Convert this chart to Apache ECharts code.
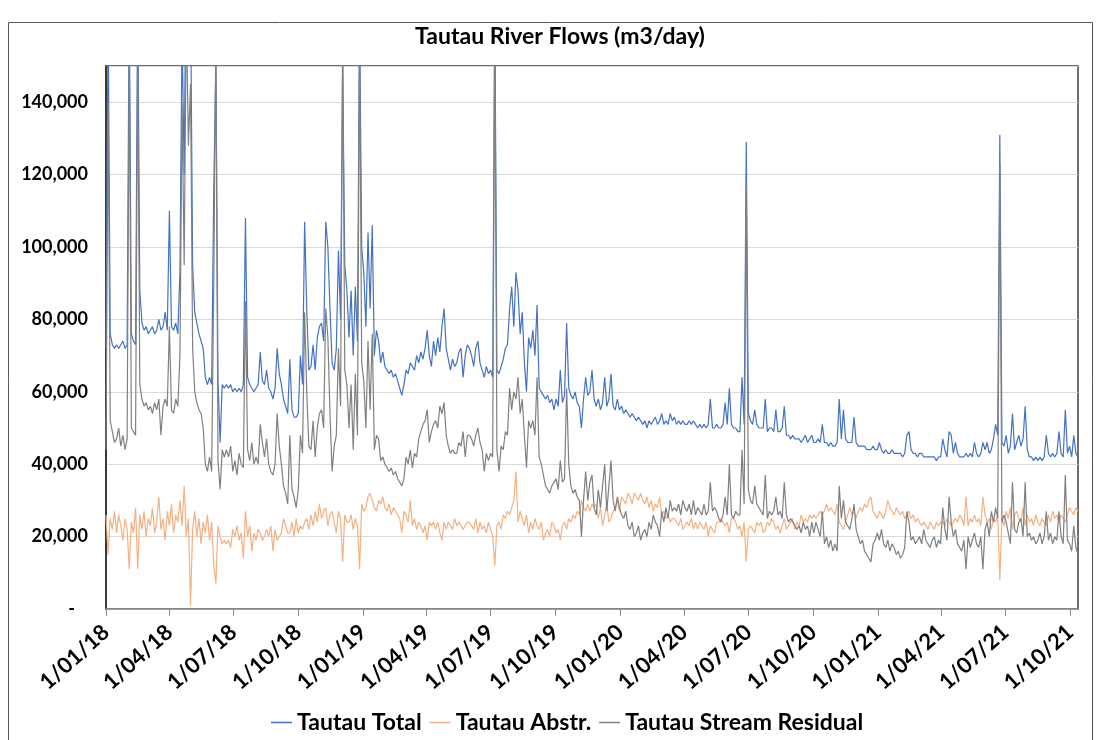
<!DOCTYPE html>
<html>
<head>
<meta charset="utf-8">
<script src="https://cdn.jsdelivr.net/npm/echarts@6/dist/echarts.min.js"></script>
<style>
  html, body { margin: 0; padding: 0; background: #ffffff; }
  #chart { width: 1099px; height: 740px; }
</style>
</head>
<body>
<div id="chart"></div>
<script>
// Tautau river flows, one reading every 3 days from 1 Jan 2018, values in thousands of m3/day.
const FIRST_DAY = [2018, 0, 1];
const STEP_DAYS = 3;

const seriesNames = ['Tautau Total', 'Tautau Abstr.', 'Tautau Stream Residual'];
const seriesColors = ['#4472C4', '#F4B183', '#808080'];

const tickLabels = ['1/01/18', '1/04/18', '1/07/18', '1/10/18', '1/01/19', '1/04/19', '1/07/19', '1/10/19',
  '1/01/20', '1/04/20', '1/07/20', '1/10/20', '1/01/21', '1/04/21', '1/07/21', '1/10/21'];

const totalK = [
  // Jan - Jun 2018
  72,165,76,73,72,73,72,73,74,72, 73,170,76,74,73,170,88,79,77,78, 76,77,78,76,77,80,77,78,82,77,
  110,78,77,79,76,93,160,120,190,150, 170,95,82,79,76,74,72,64,62,64, 62,116,150,63,46,62,61,
  // Jun - Dec 2018
  62,61,62,60,61,60,61,60,62,108, 64,62,61,60,61,62,71,63,62,66, 61,60,58,61,72,65,62,58,56,54,
  69,55,53,53,54,70,62,107,83,66, 67,73,66,75,78,79,74,107,100,83, 68,66,72,99,80,150,95,88,
  // Dec 2018 - Jun 2019
  75,88,70,89,74,165,100,93,78,104, 83,106,70,77,74,68,71,67,66,65, 66,64,65,63,61,59,62,66,65,68,
  67,66,70,68,71,69,72,77,70,67, 74,70,75,71,78,83,72,69,66,69, 67,68,71,72,64,70,73,72,
  // Jun - Nov 2019
  70,67,72,74,68,66,64,67,65,66, 64,170,66,65,67,69,72,73,83,89, 78,93,88,76,82,68,60,75,72,77,
  70,84,61,60,59,58,59,57,58,55, 58,56,66,57,59,79,61,59,58,60, 57,56,50,58,64,59,60,66,58,
  // Nov 2019 - May 2020
  56,58,55,57,64,56,58,65,56,55, 58,55,56,54,55,54,53,54,53,52, 53,52,51,52,50,52,51,52,53,51,
  52,54,51,52,51,54,52,53,51,52, 51,52,51,51,52,51,52,51,50,51, 50,51,50,51,58,50,50,51,
  // May - Nov 2020
  50,50,51,57,51,61,51,50,50,49, 49,64,51,129,54,52,51,55,51,50, 50,50,58,49,50,50,49,55,49,49,
  50,56,48,48,47,48,47,47,47,46, 47,48,46,47,48,46,46,47,46,51, 46,46,45,46,45,45,46,58,
  // Nov 2020 - May 2021
  47,55,47,46,46,46,53,46,45,45, 45,45,44,44,44,45,44,44,46,44, 43,44,43,43,44,43,43,43,43,42,
  43,48,49,44,43,43,42,43,43,42, 42,42,42,42,42,41,42,42,47,44, 42,49,48,43,46,43,42,42,
  // May - Oct 2021
  42,43,42,43,42,46,43,42,43,46, 44,46,43,44,47,51,48,131,46,45, 48,43,45,54,44,46,48,45,47,56,
  44,42,42,41,42,41,42,41,42,48, 43,42,43,42,43,49,43,42,55,43, 45,42,48,43,42
];

const abstrK = [
  // Jan - Jun 2018
  26,15,25,22,27,21,26,23,19,25, 22,11,24,21,28,11,26,22,27,20, 25,23,28,21,24,31,22,25,19,27,
  23,29,21,26,24,30,23,34,20,25, 1,22,27,20,25,18,24,21,26,19, 24,12,7,23,20,18,19,
  // Jun - Dec 2018
  18,19,17,22,20,23,19,21,14,27, 20,23,16,21,19,22,21,19,20,22, 20,23,16,22,19,20,21,25,23,21,
  21,24,20,25,21,23,22,24,25,22, 26,23,27,24,29,25,27,28,23,26, 27,24,21,27,25,13,26,24,
  // Dec 2018 - Jun 2019
  24,26,22,25,23,11,29,27,28,31, 32,30,28,27,30,29,31,28,27,29, 26,28,27,26,25,21,27,26,24,30,
  23,25,22,24,23,21,23,19,24,23, 24,22,24,21,19,24,22,24,23,22, 25,23,24,23,22,23,24,24,
  // Jun - Nov 2019
  23,22,25,21,24,22,23,21,24,22, 20,12,23,24,22,26,25,27,26,28, 30,38,24,27,25,23,26,21,24,22,
  25,23,22,24,19,21,22,20,24,23, 21,22,19,23,24,22,25,24,26,25, 27,26,30,28,27,29,27,29,28,
  // Nov 2019 - May 2020
  29,25,28,23,26,29,24,25,27,28, 30,27,31,30,29,32,31,29,32,31, 30,32,30,29,31,28,30,27,29,28,
  31,26,27,25,26,24,25,25,24,23, 25,22,23,24,23,25,22,24,22,24, 23,22,24,20,23,22,21,24,
  // May - Nov 2020
  24,25,24,23,24,21,25,25,24,22, 23,20,24,13,22,23,22,21,24,23, 24,21,22,24,23,25,24,22,23,21,
  23,25,22,23,24,25,22,24,23,26, 24,25,24,26,25,26,25,26,27,26, 27,29,27,28,27,26,29,24,
  // Nov 2020 - May 2021
  23,22,24,26,28,26,27,25,27,28, 27,29,28,30,31,27,26,25,27,26, 25,27,30,28,27,26,28,27,26,27,
  25,26,27,25,26,24,25,24,23,24, 23,22,24,23,22,24,23,24,24,23, 25,24,23,24,25,24,26,25,
  // May - Oct 2021
  23,31,23,25,24,26,24,25,23,31, 26,24,25,22,25,24,26,8,25,23, 27,25,28,22,26,27,25,24,28,23,
  26,24,25,23,26,24,23,25,24,23, 26,24,27,25,26,24,26,25,24,26, 28,27,26,28,27
];

const residualK = [
  // Jan - Jun 2018
  44,140,52,49,46,47,50,45,48,44, 47,155,50,49,48,155,62,58,56,57, 55,56,54,57,55,58,48,56,58,56,
  78,55,54,58,56,70,140,95,165,128, 145,72,60,57,55,54,50,40,38,42, 38,90,160,41,33,44,42,
  // Jun - Dec 2018
  44,42,45,38,41,37,43,40,39,85, 44,41,46,40,42,40,51,46,42,47, 40,38,37,40,54,45,40,34,32,29,
  48,33,31,28,33,48,43,82,60,45, 44,52,42,50,54,55,50,83,75,54, 38,45,48,72,56,160,66,62,
  // Dec 2018 - Jun 2019
  50,62,44,65,48,160,68,63,50,74, 55,76,44,48,47,41,42,40,39,38, 39,37,38,36,35,34,36,42,40,44,
  39,43,42,47,49,51,52,55,46,49, 51,52,50,56,54,57,48,45,43,44, 43,43,46,45,49,42,48,48,
  // Jun - Nov 2019
  47,45,48,50,46,44,38,43,41,43, 42,165,44,38,45,44,49,48,61,55, 60,58,64,54,58,48,39,52,50,52,
  48,64,42,40,37,34,33,32,34,35, 36,33,41,35,36,61,40,34,32,33, 31,30,20,30,38,30,35,37,28,
  // Nov 2019 - May 2020
  26,33,28,34,40,27,34,41,30,27, 31,28,26,25,27,23,22,24,20,21, 23,19,21,22,20,24,22,26,24,23,
  20,27,24,28,25,30,27,28,27,29, 26,30,28,27,29,26,30,26,28,27, 26,29,26,27,35,27,28,27,
  // May - Nov 2020
  25,24,26,31,26,40,26,25,27,26, 26,44,29,117,33,30,29,34,29,28, 27,26,37,25,27,26,27,31,26,27,
  25,35,26,24,25,24,23,22,23,21, 24,22,23,20,24,21,24,22,20,27, 18,20,17,19,16,18,16,34,
  // Nov 2020 - May 2021
  25,30,24,23,22,25,29,22,20,18, 19,16,15,14,13,18,19,21,19,22, 18,17,19,16,18,17,15,16,14,15,
  17,27,24,19,20,18,19,20,18,22, 19,18,17,19,20,17,19,18,28,22, 19,31,24,20,22,18,17,16,
  // May - Oct 2021
  19,11,20,17,19,21,18,17,20,11, 22,24,20,27,24,28,25,123,24,26, 24,21,18,35,22,21,24,25,20,35,
  20,21,19,20,18,19,21,18,20,27, 19,21,18,20,19,27,20,18,37,19, 18,16,23,17,15
];

// The x axis counts days since the first reading.
const DAY_MS = 86400000;
const t0 = Date.UTC(FIRST_DAY[0], FIRST_DAY[1], FIRST_DAY[2]);
const toPairs = arr => arr.map((v, i) => [i * STEP_DAYS, v * 1000]);
const lastDay = (totalK.length - 1) * STEP_DAYS;

const tickDays = tickLabels.map(s => {
  const [d, m, y] = s.split('/').map(Number);
  return Math.round((Date.UTC(2000 + y, m - 1, d) - t0) / DAY_MS);
});

const FONT = 'Lato, "Open Sans", sans-serif';
const seriesData = [totalK, abstrK, residualK];

const chart = echarts.init(document.getElementById('chart'), null, { renderer: 'canvas' });

chart.setOption({
  animation: false,
  backgroundColor: '#ffffff',
  textStyle: { fontFamily: FONT },
  graphic: [{
    type: 'rect',
    shape: { x: 8.5, y: 22.5, width: 1084, height: 740 },
    style: { fill: null, stroke: '#595959', lineWidth: 1 },
    silent: true,
    z: -10
  }],
  title: {
    text: 'Tautau River Flows (m3/day)',
    left: 555,
    textAlign: 'center',
    top: 20,
    textStyle: { fontFamily: FONT, fontSize: 23, fontWeight: 'bold', color: '#000000' }
  },
  legend: {
    data: seriesNames,
    left: 266,
    top: 706,
    icon: 'rect',
    itemWidth: 21,
    itemHeight: 1.5,
    itemGap: 8,
    textStyle: { fontFamily: FONT, fontSize: 23, fontWeight: 'bold', color: '#000000' }
  },
  grid: {
    left: 106, right: 21, top: 66, bottom: 131,
    show: true,
    borderColor: '#404040',
    borderWidth: 1.5,
    outerBoundsMode: 'none'
  },
  xAxis: {
    type: 'value',
    min: 0,
    max: lastDay,
    splitLine: { show: false },
    axisLine: { show: true, onZero: false, lineStyle: { color: '#8c8c8c', width: 1.5 } },
    axisTick: { show: true, customValues: tickDays, length: 7, lineStyle: { color: '#8c8c8c' } },
    axisLabel: {
      customValues: tickDays,
      rotate: 42,
      margin: 20,
      fontFamily: FONT,
      fontSize: 22,
      fontWeight: 'bold',
      color: '#000000',
      formatter: value => {
        const i = tickDays.indexOf(Math.round(+value));
        return i >= 0 ? tickLabels[i] : '';
      }
    }
  },
  yAxis: {
    type: 'value',
    min: 0,
    max: 150000,
    interval: 20000,
    axisLine: { show: true, lineStyle: { color: '#262626', width: 1.5 } },
    axisTick: { show: false },
    splitLine: { show: true, lineStyle: { color: '#d9d9d9', width: 1 } },
    axisLabel: {
      margin: 18,
      fontFamily: FONT,
      fontSize: 18,
      fontWeight: 'bold',
      color: '#000000',
      formatter: value => {
        if (value > 140000) return '';
        if (value === 0) return '-   ';
        return value.toLocaleString('en-US');
      }
    }
  },
  series: seriesNames.map((name, k) => ({
    name: name,
    type: 'line',
    data: toPairs(seriesData[k]),
    showSymbol: false,
    symbol: 'none',
    clip: true,
    lineStyle: { color: seriesColors[k], width: 1.2 },
    itemStyle: { color: seriesColors[k] },
    z: 2 + k
  }))
});
</script>
</body>
</html>
